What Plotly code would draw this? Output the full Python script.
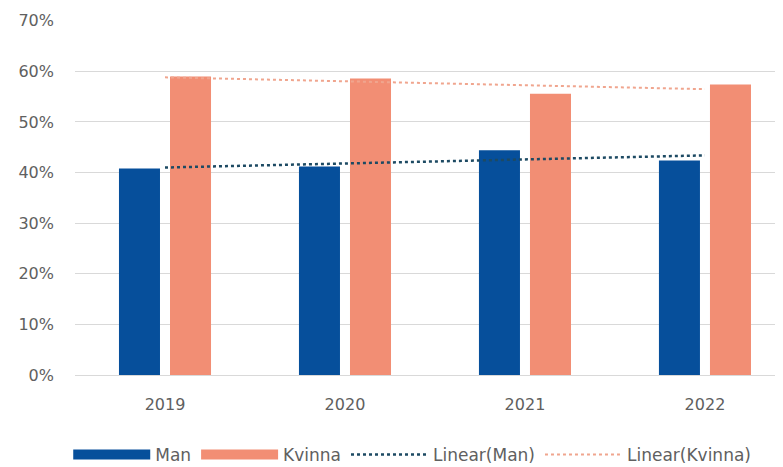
import numpy as np
import plotly.graph_objects as go

years = ["2019", "2020", "2021", "2022"]
man = [0.408, 0.412, 0.444, 0.424]
kvinna = [0.590, 0.586, 0.556, 0.574]
ytick_vals = [0, 0.1, 0.2, 0.3, 0.4, 0.5, 0.6, 0.7]
ytick_text = ["0%", "10%", "20%", "30%", "40%", "50%", "60%", "70%"]

BLUE = "#064f9b"
SALMON = "#f28e74"
TREND_M = "#1d4a63"
TREND_K = "#f0a58e"
TEXT = "#606060"
font_fam = "DejaVu Sans, sans-serif"

idx = np.arange(len(years))
def trend(vals):
    m, b = np.polyfit(idx, vals, 1)
    return list(m * idx + b)

fig = go.Figure()
fig.add_trace(go.Bar(name="Man", x=years, y=man, showlegend=False,
                     marker=dict(color=BLUE, line=dict(width=0))))
fig.add_trace(go.Bar(name="Kvinna", x=years, y=kvinna, showlegend=False,
                     marker=dict(color=SALMON, line=dict(width=0))))
# legend swatches (wide rectangles as in the reference)
fig.add_trace(go.Scatter(name="Man", x=[None], y=[None], mode="lines",
                         line=dict(color=BLUE, width=12)))
fig.add_trace(go.Scatter(name="Kvinna", x=[None], y=[None], mode="lines",
                         line=dict(color=SALMON, width=12)))
fig.add_trace(go.Scatter(name="Linear(Man)", x=years, y=trend(man), mode="lines",
                         line=dict(color=TREND_M, width=2.5, dash="dot")))
fig.add_trace(go.Scatter(name="Linear(Kvinna)", x=years, y=trend(kvinna), mode="lines",
                         line=dict(color=TREND_K, width=2, dash="dot")))

fig.update_layout(
    width=783, height=467,
    margin=dict(l=67, r=0, t=12, b=100, autoexpand=False),
    paper_bgcolor="white", plot_bgcolor="white",
    barmode="group", bargap=0.433, bargroupgap=0.196,
    font=dict(family=font_fam, size=16, color=TEXT),
    showlegend=True,
    legend=dict(orientation="h", x=0.471, xanchor="center",
                y=-0.225, yanchor="middle", font=dict(size=17, color=TEXT),
                itemwidth=77, traceorder="normal"),
)
fig.update_xaxes(type="category", range=[-0.5, 3.478], showgrid=False, showline=False,
                 ticks="", ticklabelstandoff=18, tickfont=dict(size=16, color=TEXT))
fig.update_yaxes(range=[0, 0.7015], tickvals=ytick_vals, ticktext=ytick_text,
                 showgrid=True, gridcolor="#d9d9d9", gridwidth=1, zeroline=True,
                 zerolinecolor="#d9d9d9", zerolinewidth=1, showline=False,
                 ticks="", ticklabelstandoff=20, tickfont=dict(size=16, color=TEXT))

fig.write_html("out.html")
